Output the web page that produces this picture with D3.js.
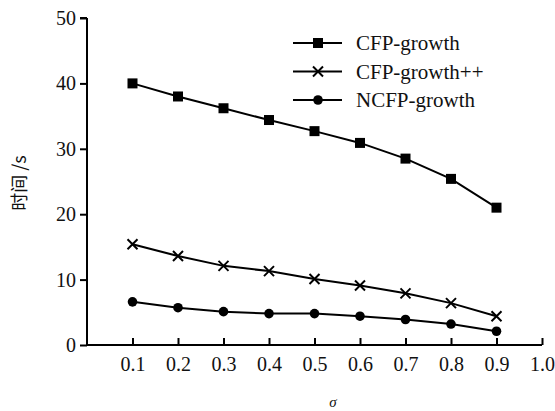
<!DOCTYPE html>
<html><head><meta charset="utf-8">
<script src="https://cdn.jsdelivr.net/npm/d3@7"></script>
<style>body{margin:0;background:#fff}svg{display:block}</style>
</head><body>
<svg id="c" width="555" height="411"></svg>
<script>
const sigma = [0.1,0.2,0.3,0.4,0.5,0.6,0.7,0.8,0.9];
const cfp = [40.0,38.0,36.2,34.4,32.7,30.9,28.5,25.4,21.0];
const cfpPP = [15.4,13.6,12.1,11.3,10.1,9.1,7.9,6.4,4.4];
const ncfp = [6.6,5.7,5.1,4.8,4.8,4.4,3.9,3.2,2.1];
const seriesNames = ["CFP-growth","CFP-growth++","NCFP-growth"];
const markerTypes = ["square","cross","circle"];
const xTicks = [0.1,0.2,0.3,0.4,0.5,0.6,0.7,0.8,0.9,1.0];
const yTicks = [0,10,20,30,40,50];
const yLabel = "时间 /s";
const xLabel = "σ";

const svg = d3.select("#c");
const x = d3.scaleLinear().domain([0,1]).range([87,542]);
const y = d3.scaleLinear().domain([0,50]).range([345,18]);
const serif = "'Liberation Serif','Times New Roman',serif";

// axes
const yAxis = svg.append("g").attr("transform","translate(87,0)")
  .call(d3.axisLeft(y).tickValues(yTicks).tickSize(7).tickPadding(4).tickFormat(d3.format("d")));
const xAxis = svg.append("g").attr("transform","translate(0,345)")
  .call(d3.axisBottom(x).tickValues(xTicks).tickSize(-7).tickPadding(12).tickFormat(d3.format(".1f")));
[yAxis,xAxis].forEach(g=>{
  g.select(".domain").attr("stroke","#000").attr("stroke-width",2);
  g.selectAll(".tick line").attr("stroke","#000").attr("stroke-width",2);
  g.selectAll(".tick text").attr("fill","#111").style("font-family",serif).style("font-size","20px");
});
xAxis.select(".domain").attr("d",`M${x(0)},0H${x(1)}`);
yAxis.select(".domain").attr("d",`M0,${y(50)}H0V${y(0)}`);
yAxis.append("line").attr("x1",-7).attr("x2",0).attr("y1",y(50)).attr("y2",y(50)).attr("stroke","#000").attr("stroke-width",2);

// labels
svg.append("text").attr("transform","translate(26,183) rotate(-90)")
  .attr("text-anchor","middle").style("font-family","'Noto Sans CJK SC',sans-serif")
  .style("font-size","18px").attr("fill","#111").style("white-space","pre").text(yLabel);
svg.append("text").attr("x",333).attr("y",407).attr("text-anchor","middle")
  .style("font-family",serif).style("font-style","italic").style("font-size","15px").attr("fill","#111").text(xLabel);

function drawMarker(g, type, cx, cy){
  if(type==="square"){
    g.append("rect").attr("x",cx-5).attr("y",cy-5).attr("width",10).attr("height",10).attr("fill","#000");
  } else if(type==="circle"){
    g.append("circle").attr("cx",cx).attr("cy",cy).attr("r",4.8).attr("fill","#000");
  } else {
    const s=5;
    g.append("path").attr("d",`M${cx-s},${cy-s}L${cx+s},${cy+s}M${cx-s},${cy+s}L${cx+s},${cy-s}`)
      .attr("stroke","#000").attr("stroke-width",2);
  }
}

const allSeries = [cfp,cfpPP,ncfp];
const line = d3.line().x((d,i)=>x(sigma[i])).y(d=>y(d));
allSeries.forEach((vals,si)=>{
  const g = svg.append("g");
  g.append("path").datum(vals).attr("d",line).attr("fill","none").attr("stroke","#000").attr("stroke-width",2);
  vals.forEach((v,i)=>drawMarker(g, markerTypes[si], x(sigma[i]), y(v)));
});

// legend
const legendY = d3.scalePoint().domain(seriesNames).range([43,100]);
seriesNames.forEach((name,si)=>{
  const g = svg.append("g");
  const ly = legendY(name);
  g.append("line").attr("x1",293).attr("x2",342).attr("y1",ly).attr("y2",ly).attr("stroke","#000").attr("stroke-width",2);
  drawMarker(g, markerTypes[si], 318, ly);
  g.append("text").attr("x",356).attr("y",ly+7).style("font-family",serif).style("font-size","21px").attr("fill","#111").text(name);
});
</script>
</body></html>
